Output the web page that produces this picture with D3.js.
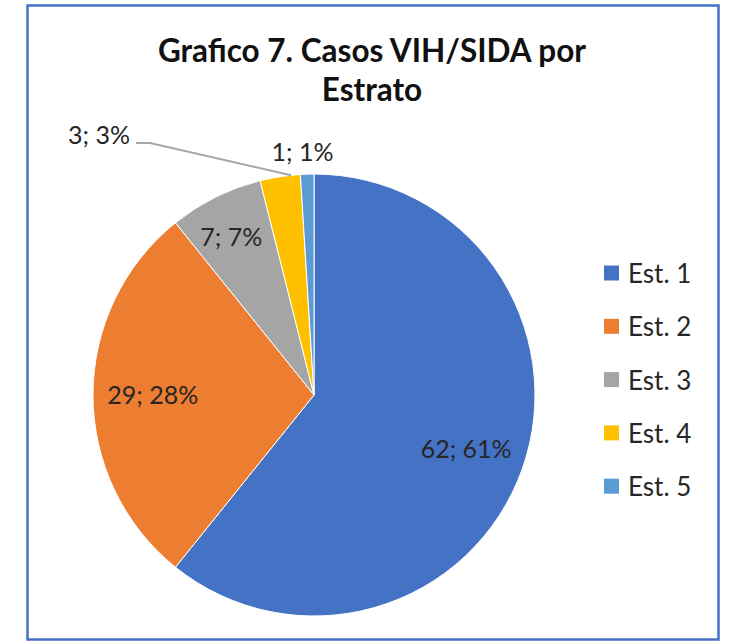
<!DOCTYPE html>
<html><head><meta charset="utf-8">
<script src="https://cdn.jsdelivr.net/npm/d3@7"></script>
<style>html,body{margin:0;padding:0;background:#fff;}svg{display:block;}</style>
</head><body>
<svg id="chart" width="729" height="641"></svg>
<script>
const categories = ["Est. 1", "Est. 2", "Est. 3", "Est. 4", "Est. 5"];
const values = [62, 29, 7, 3, 1];
const percentLabels = ["61%", "28%", "7%", "3%", "1%"];
const colors = ["#4472C4", "#ED7D31", "#A5A5A5", "#FFC000", "#5B9BD5"];
const titleLines = ["Grafico 7. Casos VIH/SIDA por", "Estrato"];

const svg = d3.select("#chart");
const W = 729, H = 641;
svg.append("rect").attr("x", 0).attr("y", 0).attr("width", W).attr("height", H).attr("fill", "#fff");
svg.append("rect").attr("x", 27.5).attr("y", 5.5).attr("width", 691).attr("height", 634)
  .attr("fill", "#fff").attr("stroke", "#4472C4").attr("stroke-width", 2.5);

const font = "Lato, 'Open Sans', sans-serif";
svg.append("g").selectAll("text").data(titleLines).join("text")
  .attr("x", 372).attr("y", (d, i) => 62 + i * 39)
  .attr("text-anchor", "middle").attr("font-family", font).attr("font-weight", 700)
  .attr("font-size", 31.5).attr("fill", "#111").text(d => d);

const cx = 314, cy = 395, R = 221;
const data = categories.map((c, i) => ({ cat: c, value: values[i], pct: percentLabels[i], color: colors[i] }));
const pie = d3.pie().value(d => d.value).sort(null);
const arcs = pie(data);
const arc = d3.arc().innerRadius(0).outerRadius(R);
const labelArc = d3.arc().innerRadius(R * 0.46).outerRadius(R);
const labelArcSmall = d3.arc().innerRadius(R * 0.6).outerRadius(R);

const g = svg.append("g").attr("transform", `translate(${cx},${cy})`);
g.selectAll("path").data(arcs).join("path")
  .attr("d", arc).attr("fill", d => d.data.color)
  .attr("stroke", "#fff").attr("stroke-width", 1);

const labelSize = 25, labelColor = "#262626";
arcs.forEach((a, i) => {
  const txt = `${a.data.value}; ${a.data.pct}`;
  const frac = (a.endAngle - a.startAngle) / (2 * Math.PI);
  if (frac > 0.05) {
    const [x, y] = (frac < 0.1 ? labelArcSmall : labelArc).centroid(a);
    g.append("text").attr("x", x - (frac < 0.1 ? 4 : 0)).attr("y", y + 9).attr("text-anchor", "middle")
      .attr("font-family", font).attr("font-size", labelSize).attr("fill", labelColor).text(txt);
  } else if (i === data.length - 1) {
    const mid = (a.startAngle + a.endAngle) / 2;
    const r = R + 22;
    g.append("text").attr("x", r * Math.sin(mid) - 4).attr("y", -r * Math.cos(mid) + 9)
      .attr("text-anchor", "middle").attr("font-family", font).attr("font-size", labelSize)
      .attr("fill", labelColor).text(txt);
  } else {
    const mid = (a.startAngle + a.endAngle) / 2;
    const px = R * Math.sin(mid + 0.05), py = -R * Math.cos(mid + 0.05);
    const ex = -164, ey = -252;
    g.append("polyline")
      .attr("points", `${px},${py} ${ex},${ey} ${ex - 14},${ey}`)
      .attr("fill", "none").attr("stroke", "#A6A6A6").attr("stroke-width", 2);
    g.append("text").attr("x", ex - 20).attr("y", ey + 1).attr("text-anchor", "end")
      .attr("font-family", font).attr("font-size", labelSize).attr("fill", labelColor).text(txt);
  }
});

const legend = svg.append("g").attr("transform", "translate(604,273)");
const rows = legend.selectAll("g").data(data).join("g")
  .attr("transform", (d, i) => `translate(0,${i * 53.3})`);
rows.append("rect").attr("x", 0).attr("y", -7.5).attr("width", 15).attr("height", 15).attr("fill", d => d.color);
rows.append("text").attr("x", 24).attr("y", 10).attr("font-family", font).attr("font-size", 26)
  .attr("fill", labelColor).text(d => d.cat);
</script>
</body></html>
